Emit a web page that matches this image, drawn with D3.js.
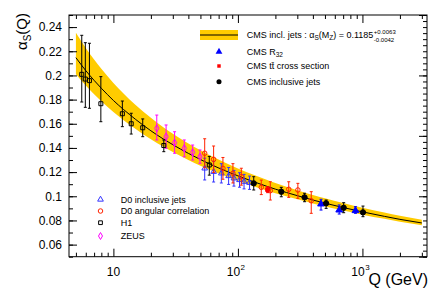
<!DOCTYPE html>
<html>
<head>
<meta charset="utf-8">
<script src="https://cdn.jsdelivr.net/npm/d3@7"></script>
<style>
  body { margin: 0; background: #fff; }
  svg { font-family: "Liberation Sans", Arial, sans-serif; }
</style>
</head>
<body>
<svg width="436" height="295"></svg>
<script>
// running alpha_s band (CMS inclusive jets)
var bandQ  = [5, 6, 7, 8, 10, 12, 15, 20, 25, 30, 40, 50, 60, 80, 100, 130, 170, 200, 300, 400, 500, 700, 1000, 1500, 2000, 3000];
var bandMid = [0.2147, 0.2040, 0.1959, 0.1894, 0.1793, 0.1720, 0.1638, 0.1542, 0.1476, 0.1427, 0.1355, 0.1304, 0.1265, 0.1209, 0.1169, 0.1125, 0.1083, 0.1059, 0.1005, 0.0969, 0.0943, 0.0907, 0.0871, 0.0834, 0.0809, 0.0779];
var bandHi = [0.2354, 0.2227, 0.2131, 0.2055, 0.1937, 0.1853, 0.1758, 0.1649, 0.1574, 0.1518, 0.1437, 0.1380, 0.1337, 0.1275, 0.1230, 0.1182, 0.1136, 0.1109, 0.1050, 0.1011, 0.0983, 0.0944, 0.0905, 0.0865, 0.0838, 0.0806];
var bandLo = [0.2009, 0.1916, 0.1844, 0.1787, 0.1697, 0.1632, 0.1558, 0.1471, 0.1411, 0.1366, 0.1300, 0.1253, 0.1217, 0.1165, 0.1128, 0.1087, 0.1048, 0.1025, 0.0975, 0.0941, 0.0916, 0.0882, 0.0848, 0.0813, 0.0789, 0.0761];

// measurements: [Q, alpha, low, high]
var h1 = [[5.57, 0.2009, 0.1780, 0.2332], [5.95, 0.1970, 0.1736, 0.2271], [6.42, 0.1957, 0.1728, 0.2266],
  [7.93, 0.1766, 0.1617, 0.1990], [11.8, 0.1683, 0.1576, 0.1788], [13.9, 0.1600, 0.1515, 0.1687],
  [17.2, 0.1567, 0.1493, 0.1640], [25.4, 0.1420, 0.1369, 0.1466], [58.9, 0.1259, 0.1175, 0.1330]];
var zeus = [[22.3, 0.1562, 0.1466, 0.1672], [26.5, 0.1493, 0.1397, 0.1590], [31.0, 0.1443, 0.1356, 0.1534],
  [37.1, 0.1397, 0.1327, 0.1466], [43.3, 0.1364, 0.1300, 0.1424], [49.6, 0.1327, 0.1273, 0.1383]];
var d0Incl = [[54.1, 0.1231, 0.1135, 0.1315], [63.8, 0.1203, 0.1118, 0.1288], [73.6, 0.1190, 0.1110, 0.1270],
  [84.2, 0.1168, 0.1098, 0.1238], [92.9, 0.1149, 0.1084, 0.1214], [103, 0.1135, 0.1075, 0.1195],
  [112, 0.1121, 0.1061, 0.1181], [124, 0.1112, 0.1057, 0.1167]];
var d0Ang = [[54.1, 0.1356, 0.1236, 0.1476], [63.8, 0.1306, 0.1196, 0.1416], [75.8, 0.1231, 0.1141, 0.1321],
  [91.2, 0.1190, 0.1110, 0.1270], [106.5, 0.1162, 0.1092, 0.1232], [154, 0.1074, 0.1014, 0.1134],
  [182, 0.1046, 0.0969, 0.1120], [256, 0.1058, 0.0991, 0.1120], [303, 0.1052, 0.0983, 0.1107],
  [388, 0.0963, 0.0859, 0.1038]];
var cmsTT = [[173, 0.1055, 0.1030, 0.1080]];
var cmsR32 = [[465, 0.0936, 0.0886, 0.0975], [651, 0.0886, 0.0853, 0.0928], [879, 0.0881, 0.0859, 0.0914]];
var cmsJets = [[134, 0.1107, 0.1052, 0.1162], [223, 0.1038, 0.0996, 0.1074], [343, 0.0991, 0.0955, 0.1025],
  [511, 0.0942, 0.0900, 0.0969], [707, 0.0905, 0.0864, 0.0947], [1010, 0.0867, 0.0831, 0.0919]];

var yTicks = [0.06, 0.08, 0.1, 0.12, 0.14, 0.16, 0.18, 0.2, 0.22, 0.24];
var xTickLabels = [[10, ""], [100, "2"], [1000, "3"]];

var svg = d3.select("svg"),
  margin = { left: 69, right: 9, top: 15, bottom: 38.3 },
  width = +svg.attr("width") - margin.left - margin.right,
  height = +svg.attr("height") - margin.top - margin.bottom,
  g = svg.append("g").attr("transform", "translate(" + margin.left + "," + margin.top + ")");

var x = d3.scaleLog().domain([4.4, 3300]).range([0, width]);
var y = d3.scaleLinear().domain([0.05, 0.25]).range([height, 0]);

// band + central line
var band = bandQ.map(function(q, i) { return { q: q, lo: bandLo[i], hi: bandHi[i], mid: bandMid[i] }; });

g.append("path")
  .datum(band)
  .attr("fill", "#ffcc00")
  .attr("d", d3.area().curve(d3.curveMonotoneX)
    .x(function(d) { return x(d.q); })
    .y0(function(d) { return y(d.lo); })
    .y1(function(d) { return y(d.hi); }));

g.append("path")
  .datum(band)
  .attr("fill", "none")
  .attr("stroke", "#000")
  .attr("stroke-width", 1)
  .attr("d", d3.line().curve(d3.curveMonotoneX)
    .x(function(d) { return x(d.q); })
    .y(function(d) { return y(d.mid); }));

// measurements
function drawSet(data, color, type, size, filled) {
  var s = g.append("g");
  var eb = s.selectAll("g.eb").data(data).enter().append("g").attr("class", "eb");
  eb.append("line")
    .attr("x1", function(d) { return x(d[0]); })
    .attr("x2", function(d) { return x(d[0]); })
    .attr("y1", function(d) { return y(d[2]); })
    .attr("y2", function(d) { return y(d[3]); })
    .attr("stroke", color).attr("stroke-width", 1);
  [2, 3].forEach(function(k) {
    eb.append("line")
      .attr("x1", function(d) { return x(d[0]) - 1.5; })
      .attr("x2", function(d) { return x(d[0]) + 1.5; })
      .attr("y1", function(d) { return y(d[k]); })
      .attr("y2", function(d) { return y(d[k]); })
      .attr("stroke", color).attr("stroke-width", 1);
  });
  s.selectAll("path.pt").data(data).enter().append("path")
    .attr("class", "pt")
    .attr("d", d3.symbol().type(type).size(size))
    .attr("transform", function(d) { return "translate(" + x(d[0]) + "," + y(d[1]) + ")"; })
    .attr("fill", filled ? color : "#fff")
    .attr("fill-opacity", filled ? 1 : 0)
    .attr("stroke", color)
    .attr("stroke-width", 1);
}

drawSet(zeus, "#ff00ff", d3.symbolDiamond, 16, false);
drawSet(h1, "#000", d3.symbolSquare, 16, false);
drawSet(d0Incl, "#3333ff", d3.symbolTriangle, 14, false);
drawSet(d0Ang, "#ff2200", d3.symbolCircle, 16, false);
drawSet(cmsTT, "#ff0000", d3.symbolSquare, 14, true);
drawSet(cmsR32, "#0000ff", d3.symbolTriangle, 20, true);
drawSet(cmsJets, "#000", d3.symbolCircle, 22, true);

// axes, ticks pointing inside
function ticksOnly(axis) {
  return function(sel) {
    sel.call(axis);
    sel.select(".domain").remove();
    sel.selectAll("line").attr("stroke", "#000");
  };
}

var xMinor = [];
[1, 10, 100, 1000].forEach(function(dec) {
  for (var k = 2; k <= 9; k++) {
    var v = k * dec;
    if (v > 4.4 && v < 3300) xMinor.push(v);
  }
});
var yMinor = d3.range(0.05, 0.2501, 0.01);

g.append("g").attr("transform", "translate(0," + height + ")")
  .call(ticksOnly(d3.axisBottom(x).tickValues(xMinor).tickSize(-4).tickFormat("")));
g.append("g").attr("transform", "translate(0," + height + ")")
  .call(ticksOnly(d3.axisBottom(x).tickValues([10, 100, 1000]).tickSize(-8).tickFormat("")));
g.append("g")
  .call(ticksOnly(d3.axisTop(x).tickValues(xMinor).tickSize(-4).tickFormat("")));
g.append("g")
  .call(ticksOnly(d3.axisTop(x).tickValues([10, 100, 1000]).tickSize(-8).tickFormat("")));

g.append("g")
  .call(ticksOnly(d3.axisLeft(y).tickValues(yMinor).tickSize(-4).tickFormat("")));
g.append("g").attr("class", "ylab")
  .call(ticksOnly(d3.axisLeft(y).tickValues(yTicks).tickSize(-8).tickPadding(7).tickFormat(d3.format("~g"))));
g.selectAll(".ylab text").attr("font-size", 12).attr("font-family", "Liberation Sans, Arial, sans-serif").attr("fill", "#000");

var rMinor = d3.range(0.05, 0.2501, 0.005);
g.append("g").attr("transform", "translate(" + width + ",0)")
  .call(ticksOnly(d3.axisRight(y).tickValues(rMinor).tickSize(-4).tickFormat("")));
g.append("g").attr("transform", "translate(" + width + ",0)")
  .call(ticksOnly(d3.axisRight(y).tickValues([0.05, 0.1, 0.15, 0.2, 0.25]).tickSize(-8).tickFormat("")));

g.append("rect")
  .attr("width", width).attr("height", height)
  .attr("fill", "none").attr("stroke", "#000").attr("stroke-width", 1);

// x tick labels: 10, 10^2, 10^3
var xl = g.selectAll("text.xl").data(xTickLabels).enter().append("text")
  .attr("class", "xl")
  .attr("x", function(d) { return x(d[0]) - (d[1] ? 2 : 0); })
  .attr("y", height + 19)
  .attr("text-anchor", "middle")
  .attr("font-size", 12)
  .text("10");
xl.filter(function(d) { return d[1]; }).append("tspan")
  .attr("dx", 0.5).attr("dy", -6).attr("font-size", 8)
  .text(function(d) { return d[1]; });

g.append("text")
  .attr("x", width + 1)
  .attr("y", height + 28)
  .attr("text-anchor", "end")
  .attr("font-size", 16)
  .text("Q (GeV)");

var yl = g.append("text")
  .attr("transform", "translate(" + (27 - margin.left) + ",-2)rotate(-90)")
  .attr("text-anchor", "end")
  .attr("font-size", 15);
yl.append("tspan").text("α");
yl.append("tspan").attr("font-size", 10).attr("dy", 4).text("S");
yl.append("tspan").attr("dy", -4).text("(Q)");

// legend, top right
var lx = 131, tx = 177.7;
g.append("rect").attr("x", lx).attr("y", 15).attr("width", 38).attr("height", 10).attr("fill", "#ffcc00");
g.append("line").attr("x1", lx).attr("x2", lx + 38).attr("y1", 20).attr("y2", 20).attr("stroke", "#000");

var t1 = g.append("text").attr("x", tx).attr("y", 23).attr("font-size", 9);
t1.append("tspan").text("CMS incl. jets :  α");
t1.append("tspan").attr("font-size", 6.5).attr("dy", 2).text("S");
t1.append("tspan").attr("dy", -2).text("(M");
t1.append("tspan").attr("font-size", 6.5).attr("dy", 2).text("Z");
t1.append("tspan").attr("dy", -2).text(") = 0.1185");
var bb = t1.node().getBBox();
g.append("text").attr("x", bb.x + bb.width + 0.5).attr("y", 19).attr("font-size", 6).text("+0.0063");
g.append("text").attr("x", bb.x + bb.width + 0.5).attr("y", 26.5).attr("font-size", 6).text("-0.0042");

var legRows = [
  { y: 36.7, set: "r32" },
  { y: 51, set: "tt" },
  { y: 66.7, set: "jets" }
];
var mx = 150;
g.append("path").attr("d", d3.symbol().type(d3.symbolTriangle).size(20)).attr("fill", "#0000ff")
  .attr("transform", "translate(" + mx + "," + legRows[0].y + ")");
g.append("path").attr("d", d3.symbol().type(d3.symbolSquare).size(12)).attr("fill", "#ff0000")
  .attr("transform", "translate(" + mx + "," + legRows[1].y + ")");
g.append("path").attr("d", d3.symbol().type(d3.symbolCircle).size(20)).attr("fill", "#000")
  .attr("transform", "translate(" + mx + "," + legRows[2].y + ")");

var r32 = g.append("text").attr("x", tx).attr("y", legRows[0].y + 3).attr("font-size", 9);
r32.append("tspan").text("CMS R");
r32.append("tspan").attr("font-size", 6.5).attr("dy", 2).text("32");
g.append("text").attr("x", tx).attr("y", legRows[1].y + 3).attr("font-size", 9).text("CMS tt\u0304 cross section");
g.append("text").attr("x", tx).attr("y", legRows[2].y + 3).attr("font-size", 9).text("CMS inclusive jets");

// legend, bottom left
var bl = [
  { name: "D0 inclusive jets", color: "#3333ff", type: d3.symbolTriangle, size: 14, y: 184.5 },
  { name: "D0 angular correlation", color: "#ff2200", type: d3.symbolCircle, size: 16, y: 196 },
  { name: "H1", color: "#000", type: d3.symbolSquare, size: 14, y: 207.7 },
  { name: "ZEUS", color: "#ff00ff", type: d3.symbolDiamond, size: 14, y: 221 }
];
g.selectAll("path.bl").data(bl).enter().append("path")
  .attr("class", "bl")
  .attr("d", function(d) { return d3.symbol().type(d.type).size(d.size)(); })
  .attr("transform", function(d) { return "translate(31.5," + d.y + ")"; })
  .attr("fill", "none")
  .attr("stroke", function(d) { return d.color; });
g.selectAll("text.bl").data(bl).enter().append("text")
  .attr("class", "bl")
  .attr("x", 51.7)
  .attr("y", function(d) { return d.y + 3; })
  .attr("font-size", 9)
  .text(function(d) { return d.name; });
</script>
</body>
</html>
